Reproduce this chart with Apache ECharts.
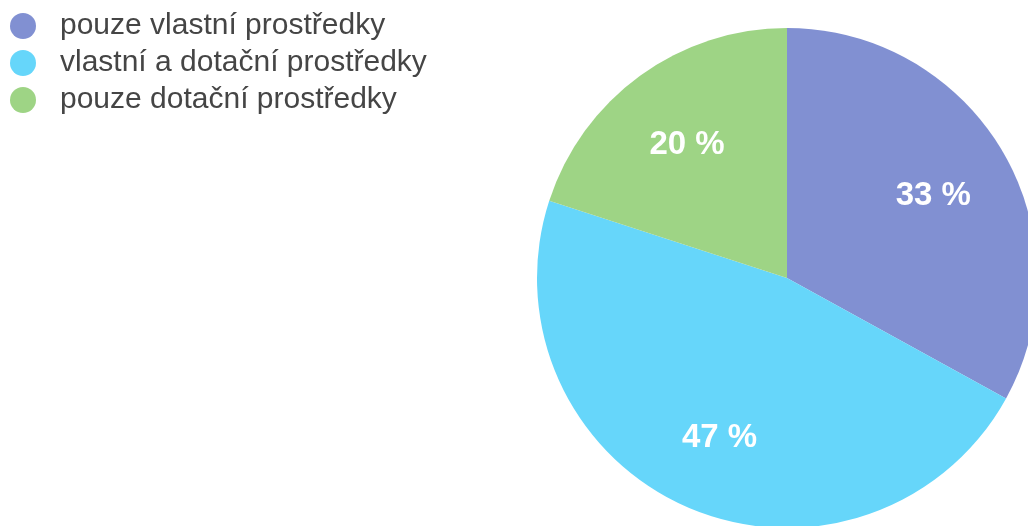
<!DOCTYPE html>
<html>
<head>
<meta charset="utf-8">
<script src="https://cdn.jsdelivr.net/npm/echarts@6/dist/echarts.min.js"></script>
<style>
html,body{margin:0;padding:0;background:#fff;}
#c{width:1028px;height:526px;}
</style>
</head>
<body>
<div id="c"></div>
<script>
const categories = ['pouze vlastní prostředky', 'vlastní a dotační prostředky', 'pouze dotační prostředky'];
const values = [33, 47, 20];
const colors = ['#8190D2', '#66D6FA', '#9ED485'];

const data = categories.map((n, i) => ({ name: n, value: values[i], itemStyle: { color: colors[i] } }));
const labelData = categories.map((n, i) => ({ name: n, value: values[i], itemStyle: { color: 'rgba(0,0,0,0)' } }));

const chart = echarts.init(document.getElementById('c'), null, { renderer: 'canvas' });
chart.setOption({
  animation: false,
  backgroundColor: '#fff',
  legend: {
    orient: 'vertical',
    left: 5,
    top: 6,
    icon: 'circle',
    itemWidth: 26,
    itemHeight: 26,
    itemGap: 7,
    selectedMode: false,
    data: categories,
    textStyle: {
      fontFamily: 'Liberation Sans',
      fontSize: 30,
      lineHeight: 26,
      color: '#454545',
      padding: [0, 0, 0, 19]
    }
  },
  series: [
    {
      type: 'pie',
      center: [787, 278],
      radius: [0, 250],
      startAngle: 90,
      clockwise: true,
      silent: true,
      label: { show: false },
      labelLine: { show: false },
      emphasis: { disabled: true },
      data: data
    },
    {
      type: 'pie',
      center: [787, 278],
      radius: [84, 250],
      startAngle: 90,
      clockwise: true,
      silent: true,
      label: {
        show: true,
        position: 'inside',
        formatter: '{c} %',
        color: '#fff',
        fontFamily: 'Liberation Sans',
        fontSize: 33,
        fontWeight: 'bold',
        offset: [0, 4]
      },
      labelLine: { show: false },
      emphasis: { disabled: true },
      data: labelData
    }
  ]
});
</script>
</body>
</html>
